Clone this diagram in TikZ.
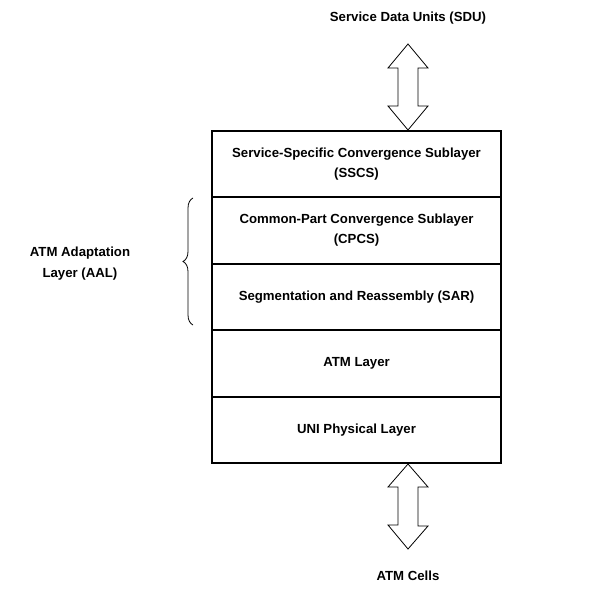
\documentclass[tikz,border=0pt]{standalone}
\usepackage{fontspec}
\setmainfont{Liberation Sans}
\usetikzlibrary{decorations.pathreplacing}
\begin{document}
\begin{tikzpicture}[x=1pt,y=-1pt,
  layerbox/.style={draw,line width=2pt,minimum width=289pt,inner sep=0pt,align=center,font=\bfseries\fontsize{13.2}{20}\selectfont,anchor=north west},
  lbl/.style={font=\bfseries\fontsize{13.2}{21}\selectfont,align=center},
  dblarrow/.style={draw,line width=0.8pt,fill=white}]
\useasboundingbox (0,0) rectangle (596,588);
\node[layerbox,minimum height=66pt] (sscs) at (211,130) {Service-Specific Convergence Sublayer\\(SSCS)};
\node[layerbox,minimum height=67pt] (cpcs) at (211,196) {Common-Part Convergence Sublayer\\(CPCS)};
\node[layerbox,minimum height=66pt] (sar) at (211,263) {Segmentation and Reassembly (SAR)};
\node[layerbox,minimum height=67pt] (atm) at (211,329) {ATM Layer};
\node[layerbox,minimum height=66pt] (uni) at (211,396) {UNI Physical Layer};
\node[lbl] (sdu) at (408,18) {Service Data Units (SDU)};
\node[lbl] (cells) at (408,576) {ATM Cells};
\node[lbl] (aal) at (80,264) {ATM Adaptation\\Layer (AAL)};
% top double arrow
\coordinate (ta) at (408,44);
\draw[dblarrow] (ta) -- ++(20,24) -- ++(-10,0) -- ++(0,38) -- ++(10,0) -- (sscs.north -| ta) -- ++(-20,-24) -- ++(10,0) -- ++(0,-38) -- ++(-10,0) -- cycle;
% bottom double arrow
\coordinate (ba) at (408,549);
\draw[dblarrow] (uni.south -| ba) -- ++(20,23) -- ++(-10,0) -- ++(0,39) -- ++(10,0) -- (ba) -- ++(-20,-24) -- ++(10,0) -- ++(0,-38) -- ++(-10,0) -- cycle;
% brace
\draw[line width=0.8pt,decorate,decoration={brace,amplitude=10pt,aspect=0.5}] (193,325) -- (193,198);
\end{tikzpicture}
\end{document}
